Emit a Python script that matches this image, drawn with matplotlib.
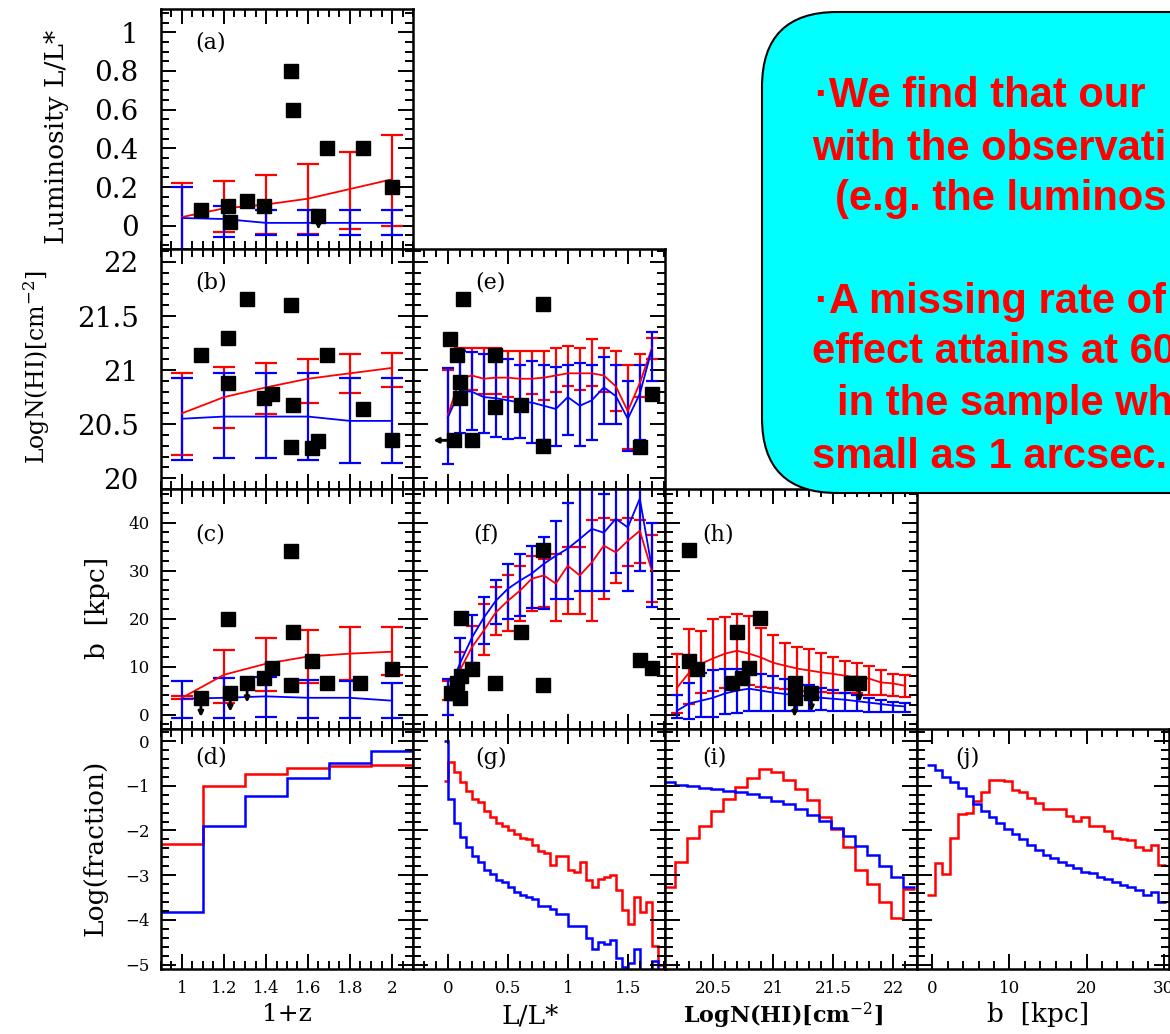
import numpy as np
import matplotlib
matplotlib.use("Agg")
import matplotlib.pyplot as plt
from matplotlib.patches import FancyBboxPatch
from matplotlib.ticker import MultipleLocator, FuncFormatter

plt.rcParams["font.family"] = "DejaVu Serif"
plt.rcParams["mathtext.fontset"] = "dejavuserif"

RED = "#ff0000"
BLUE = "#0000ff"

# ---- panels a-c : model vs 1+z ----
z_bins = [1.0, 1.2, 1.4, 1.6, 1.8, 2.0]

a_red_mid = [0.045, 0.09, 0.11, 0.14, 0.19, 0.24]
a_red_hi = [0.22, 0.23, 0.26, 0.32, 0.38, 0.47]
a_red_lo = [-0.2, -0.03, -0.04, -0.04, -0.015, 0.0]
a_blue_mid = [0.04, 0.035, 0.015, 0.015, 0.015, 0.015]
a_blue_hi = [0.2, 0.1, 0.08, 0.08, 0.08, 0.08]
a_blue_lo = [-0.2, -0.06, -0.05, -0.05, -0.05, -0.05]
a_z = [1.09, 1.22, 1.23, 1.31, 1.39, 1.52, 1.53, 1.65, 1.69, 1.86, 2.0]
a_L = [0.08, 0.1, 0.02, 0.13, 0.1, 0.8, 0.6, 0.05, 0.4, 0.4, 0.2]
a_limits = [7]

b_red_mid = [20.6, 20.75, 20.84, 20.92, 20.97, 21.02]
b_red_hi = [20.97, 21.03, 21.07, 21.1, 21.15, 21.16]
b_red_lo = [20.21, 20.46, 20.59, 20.7, 20.79, 20.84]
b_blue_mid = [20.55, 20.57, 20.57, 20.57, 20.53, 20.53]
b_blue_hi = [20.93, 20.97, 20.97, 20.97, 20.93, 20.93]
b_blue_lo = [20.17, 20.19, 20.19, 20.17, 20.14, 20.14]
b_z = [1.09, 1.22, 1.22, 1.31, 1.39, 1.43, 1.52, 1.53, 1.52, 1.62, 1.65, 1.69, 1.86, 2.0]
b_N = [21.14, 21.3, 20.88, 21.66, 20.74, 20.78, 21.6, 20.68, 20.29, 20.28, 20.34, 21.14, 20.64, 20.35]

c_red_mid = [3.5, 8.3, 10.6, 12.1, 12.7, 13.1]
c_red_hi = [3.8, 13.5, 16.0, 17.7, 18.2, 18.2]
c_red_lo = [3.2, 2.5, 5.0, 6.5, 7.3, 8.3]
c_blue_mid = [3.3, 3.5, 3.8, 3.5, 3.5, 2.9]
c_blue_hi = [6.9, 7.7, 7.9, 7.3, 6.9, 6.5]
c_blue_lo = [-0.8, -0.8, -0.4, -0.8, -0.8, -0.8]
c_z = [1.09, 1.22, 1.23, 1.31, 1.39, 1.43, 1.52, 1.53, 1.52, 1.62, 1.69, 1.85, 2.0]
c_b = [3.5, 20, 4.6, 6.5, 7.7, 9.8, 34, 17.3, 6.1, 11.2, 6.6, 6.5, 9.5]
c_limits = [0, 2, 3]

# (d) fraction vs 1+z
d_edges = [0.9, 1.1, 1.3, 1.5, 1.7, 1.9, 2.1]
d_red = [-2.3, -1.0, -0.73, -0.6, -0.56, -0.54]
d_blue = [-3.82, -1.9, -1.23, -0.83, -0.5, -0.23]

# ---- panels e-g : vs L/L* ----
L_bins = [0.0, 0.1, 0.2, 0.3, 0.4, 0.5, 0.6, 0.7, 0.8, 0.9,
          1.0, 1.1, 1.2, 1.3, 1.4, 1.5, 1.6, 1.7]

e_red_mid = [20.58, 20.92, 20.95, 20.92, 20.93, 20.93, 20.92, 20.92, 20.93,
             20.95, 20.97, 20.97, 20.97, 20.95, 20.85, 20.62, 20.88, 21.2]
e_red_hi = [21.0, 21.2, 21.2, 21.2, 21.2, 21.18, 21.18, 21.18, 21.18,
            21.2, 21.22, 21.2, 21.29, 21.2, 21.18, 21.05, 21.15, 21.3]
e_red_lo = [20.35, 20.8, 20.82, 20.78, 20.78, 20.75, 20.72, 20.78, 20.72,
            20.8, 20.85, 20.82, 20.85, 20.8, 20.62, 20.27, 20.75, 21.1]
e_blue_mid = [20.56, 20.81, 20.8, 20.75, 20.74, 20.72, 20.7, 20.7, 20.67,
              20.64, 20.75, 20.67, 20.72, 20.84, 20.76, 20.55, 20.78, 21.19]
e_blue_hi = [21.02, 21.18, 21.17, 21.15, 21.12, 21.1, 21.05, 21.08, 21.05,
             21.03, 21.05, 21.07, 21.05, 21.12, 21.05, 20.9, 21.05, 21.35]
e_blue_lo = [20.13, 20.42, 20.45, 20.42, 20.38, 20.36, 20.37, 20.33, 20.35,
             20.3, 20.4, 20.3, 20.35, 20.5, 20.5, 20.25, 20.35, 20.9]
e_L = [0.125, 0.02, 0.08, 0.39, 0.79, 0.1, 0.1, 0.39, 0.61, 0.05, 0.2, 0.79, 1.7, 1.6]
e_N = [21.66, 21.29, 21.14, 21.14, 21.61, 20.89, 20.74, 20.66, 20.68, 20.35, 20.35, 20.3, 20.78, 20.29]
e_limits = [9]

f_red_mid = [5, 9.2, 14, 17.5, 21.3, 23.7, 25.8, 28.3, 29, 27.3, 31, 29, 31.7, 35.2, 33.8, 36.2, 38.3, 30]
f_red_hi = [7, 13, 18.5, 23, 26.5, 29, 31, 33, 32.5, 33.5, 35, 35, 40.5, 41, 40.5, 41, 40.5, 37.5]
f_red_lo = [3, 6.5, 10.5, 12.5, 16.5, 17.5, 19.5, 21.5, 22.5, 19.5, 21, 21, 19.5, 24, 27.5, 31, 31.5, 23.5]
f_blue_mid = [4.4, 10.6, 16, 20.2, 23.7, 26.2, 27.9, 29.4, 31.4, 33.1, 34.6, 36.6, 38.7, 37.9, 40.8, 39, 45, 30.6]
f_blue_hi = [7.5, 16, 20.8, 24.6, 28, 31.4, 33.5, 35.2, 37, 40.4, 44, 48, 48, 46, 48, 48, 48, 40]
f_blue_lo = [0, 4.6, 10.8, 14.7, 18.9, 20, 20.6, 22.3, 22, 24.1, 24.1, 25.8, 25.8, 25.8, 29.4, 25.8, 30, 22.5]
f_L = [0.11, 0.79, 0.61, 0.2, 0.11, 0.08, 0.39, 0.79, 0.03, 0.1, 1.6, 1.7, 0.06]
f_b = [20.2, 34.2, 17.3, 9.6, 8.1, 6.5, 6.6, 6.2, 4.6, 3.5, 11.4, 9.8, 4.4]

g_edges = [-0.03] + [round(0.05 * k, 2) for k in range(37)]
g_red = [-0.9, -0.46, -0.69, -0.92, -1.11, -1.30, -1.36, -1.56, -1.71, -1.83, -1.9, -1.98,
         -2.09, -2.17, -2.2, -2.32, -2.47, -2.51, -2.77, -2.58, -2.57, -2.89, -2.92, -2.7,
         -3.11, -3.26, -3.08, -3.04, -3.0, -3.34, -3.79, -4.1, -3.49, -3.83, -3.61, -4.59, -5.0]
g_blue = [0.0, -1.3, -1.84, -2.14, -2.37, -2.57, -2.7, -2.89, -2.98, -3.1, -3.15, -3.26,
          -3.38, -3.45, -3.49, -3.53, -3.68, -3.7, -3.76, -3.87, -3.87, -4.14, -4.14, -4.14,
          -4.4, -4.66, -4.49, -4.55, -4.44, -4.86, -5.05, -4.97, -4.66, -5.4, -5.4, -4.93, -5.4]

# ---- panels h-i : vs LogN(HI) ----
N_bins = [20.2, 20.3, 20.4, 20.5, 20.6, 20.7, 20.8, 20.9, 21.0, 21.1,
          21.2, 21.3, 21.4, 21.5, 21.6, 21.7, 21.8, 21.9, 22.0, 22.1]
h_red_mid = [5.6, 8.7, 10.6, 11.7, 12.7, 13.3, 12.7, 11.9, 10.8, 10.2,
             9.6, 9.2, 8.8, 8.5, 8.1, 7.7, 7.5, 6.7, 6.5, 6.0]
h_red_hi = [12.7, 17.9, 17.5, 20, 20.4, 21, 20.5, 18.1, 16.5, 15,
            14, 13.6, 12.9, 12, 11.2, 10.8, 10.2, 9.2, 8.5, 8.2]
h_red_lo = [0.4, 2.3, 4.4, 5, 5.6, 6.5, 6.2, 5.8, 5.5, 5.3,
            5.0, 5.0, 4.8, 4.6, 4.6, 4.4, 4.0, 4.0, 3.8, 3.6]
h_blue_mid = [0.8, 2.3, 2.9, 3.5, 4.4, 5.0, 5.4, 5.0, 4.6, 4.3,
              4.0, 3.8, 3.5, 3.3, 3.1, 2.8, 2.5, 2.2, 1.9, 1.7]
h_blue_hi = [4.0, 6.5, 8.7, 9.3, 9.6, 9.5, 9.3, 8.5, 8.1, 7.4,
             6.7, 6.2, 5.6, 5.1, 4.6, 4.1, 3.5, 3.1, 2.7, 2.5]
h_blue_lo = [-0.8, -1.0, -0.6, -0.5, 0.2, 0.4, 0.8, 0.8, 0.8, 0.8,
             0.8, 0.8, 1.0, 0.8, 0.8, 0.7, 0.6, 0.5, 0.5, 0.5]
h_N = [20.3, 20.3, 20.37, 20.7, 20.89, 20.66, 20.74, 20.8, 21.18, 21.18, 21.32, 21.65, 21.72]
h_b = [34.2, 11.2, 9.6, 17.3, 20.2, 6.6, 7.7, 9.8, 6.5, 3.5, 4.6, 6.5, 6.6]
h_limits = [9, 10, 12]

i_edges = [round(20.08 + 0.1 * k, 2) for k in range(22)]
i_red = [-3.27, -2.7, -2.17, -1.9, -1.56, -1.3, -1.03, -0.83, -0.63, -0.7, -0.88,
         -1.07, -1.31, -1.71, -1.96, -2.36, -2.89, -3.2, -3.6, -3.95, -3.3]
i_blue = [-0.92, -0.98, -1.01, -1.05, -1.08, -1.11, -1.13, -1.18, -1.26, -1.33, -1.41,
          -1.52, -1.66, -1.79, -1.95, -2.13, -2.34, -2.55, -2.8, -3.04, -3.27]

# ---- panel j : vs b ----
j_edges = [round(-0.7 + k, 1) for k in range(32)]
j_red = [-3.45, -2.73, -2.98, -2.17, -1.64, -1.6, -1.33, -1.13, -0.86, -0.86, -0.9,
         -1.09, -1.13, -1.28, -1.39, -1.52, -1.52, -1.52, -1.67, -1.79, -1.71, -1.9,
         -1.9, -2.02, -2.17, -2.2, -2.22, -2.36, -2.43, -2.32, -2.77]
j_blue = [-0.54, -0.65, -0.8, -0.92, -1.05, -1.22, -1.41, -1.56, -1.69, -1.83, -1.96,
          -2.09, -2.2, -2.32, -2.43, -2.55, -2.62, -2.7, -2.77, -2.85, -2.92, -2.96,
          -3.04, -3.08, -3.15, -3.23, -3.26, -3.34, -3.45, -3.38, -3.61]

box_lines = ["\u00b7We find that our", "with the observati", "(e.g. the luminos",
             "\u00b7A missing rate of", "effect attains at 60", "in the sample wh",
             "small as 1 arcsec."]


fig = plt.figure(figsize=(11.7, 10.34), dpi=100)
W, H = 1170, 1034


def panel(col, row):
    ax = fig.add_axes([(161 + 252 * col) / W, 1 - (9 + 240 * (row + 1)) / H, 252 / W, 240 / H])
    ax.tick_params(which="both", direction="in", top=True, right=True, width=1.4)
    ax.tick_params(which="major", length=11)
    ax.tick_params(which="minor", length=5.5)
    ax.tick_params(labelbottom=False, labelleft=False)
    for s in ax.spines.values():
        s.set_linewidth(1.8)
    return ax


def num(v, pos):
    return f"{v:g}".replace("-", "\u2212")


def bars(ax, x, mid, lo, hi, color, cap):
    mid = np.array(mid)
    err = [mid - np.array(lo), np.array(hi) - mid]
    ax.errorbar(x, mid, yerr=err, color=color, lw=1.3, elinewidth=1.6,
                capsize=cap, capthick=1.6, zorder=2)


def points(ax, x, y):
    ax.plot(x, y, "s", color="black", ms=10, zorder=5)


def limits(ax, x, y, idx, dx, dy):
    for k in idx:
        ax.annotate("", xy=(x[k] + dx, y[k] + dy), xytext=(x[k], y[k]),
                    arrowprops=dict(arrowstyle="-|>", color="black", lw=2,
                                    mutation_scale=7, shrinkA=0, shrinkB=0), zorder=4)


def label(ax, text, x, y):
    ax.text(x, y, text, transform=ax.transAxes, fontsize=16, ha="left", va="center")


axes = {}
for name, col, row in [("a", 0, 0), ("b", 0, 1), ("c", 0, 2), ("d", 0, 3),
                       ("e", 1, 1), ("f", 1, 2), ("g", 1, 3),
                       ("h", 2, 2), ("i", 2, 3), ("j", 3, 3)]:
    axes[name] = panel(col, row)

# x ranges / ticks per column
for name in "abcd":
    axes[name].set_xlim(0.9, 2.1)
    axes[name].xaxis.set_major_locator(MultipleLocator(0.2))
    axes[name].xaxis.set_minor_locator(MultipleLocator(0.05))
for name in "efg":
    axes[name].set_xlim(-0.29, 1.81)
    axes[name].xaxis.set_major_locator(MultipleLocator(0.5))
    axes[name].xaxis.set_minor_locator(MultipleLocator(0.1))
for name in "hi":
    axes[name].set_xlim(20.1, 22.2)
    axes[name].xaxis.set_major_locator(MultipleLocator(0.5))
    axes[name].xaxis.set_minor_locator(MultipleLocator(0.1))
axes["j"].set_xlim(-2, 30.7)
axes["j"].xaxis.set_major_locator(MultipleLocator(10))
axes["j"].xaxis.set_minor_locator(MultipleLocator(2))

# y ranges / ticks per row
axes["a"].set_ylim(-0.12, 1.12)
axes["a"].yaxis.set_major_locator(MultipleLocator(0.2))
axes["a"].yaxis.set_minor_locator(MultipleLocator(0.05))
for name in "be":
    axes[name].set_ylim(19.9, 22.12)
    axes[name].yaxis.set_major_locator(MultipleLocator(0.5))
    axes[name].yaxis.set_minor_locator(MultipleLocator(0.1))
for name in "cfh":
    axes[name].set_ylim(-3, 47)
    axes[name].yaxis.set_major_locator(MultipleLocator(10))
    axes[name].yaxis.set_minor_locator(MultipleLocator(2))
for name in "dgij":
    axes[name].set_ylim(-5.1, 0.27)
    axes[name].yaxis.set_major_locator(MultipleLocator(1))
    axes[name].yaxis.set_minor_locator(MultipleLocator(0.2))

for name in "abcd":
    axes[name].tick_params(labelleft=True)
    axes[name].yaxis.set_major_formatter(FuncFormatter(num))
for name in "dgij":
    axes[name].tick_params(labelbottom=True, labelsize=12, pad=8)
    axes[name].xaxis.set_major_formatter(FuncFormatter(num))
for name in "ab":
    axes[name].tick_params(axis="y", labelsize=20, pad=16)
for name in "cd":
    axes[name].tick_params(axis="y", labelsize=12, pad=8)

# (a)
ax = axes["a"]
bars(ax, z_bins, a_red_mid, a_red_lo, a_red_hi, RED, 8)
bars(ax, z_bins, a_blue_mid, a_blue_lo, a_blue_hi, BLUE, 8)
points(ax, a_z, a_L)
limits(ax, a_z, a_L, a_limits, 0, -0.07)
label(ax, "(a)", 0.135, 0.86)

# (b)
ax = axes["b"]
bars(ax, z_bins, b_red_mid, b_red_lo, b_red_hi, RED, 8)
bars(ax, z_bins, b_blue_mid, b_blue_lo, b_blue_hi, BLUE, 8)
points(ax, b_z, b_N)
label(ax, "(b)", 0.135, 0.86)

# (c)
ax = axes["c"]
bars(ax, z_bins, c_red_mid, c_red_lo, c_red_hi, RED, 8)
bars(ax, z_bins, c_blue_mid, c_blue_lo, c_blue_hi, BLUE, 8)
points(ax, c_z, c_b)
limits(ax, c_z, c_b, c_limits, 0, -4)
label(ax, "(c)", 0.135, 0.81)

# (d)
ax = axes["d"]
ax.stairs(d_red, d_edges, baseline=None, color=RED, lw=1.8)
ax.stairs(d_blue, d_edges, baseline=None, color=BLUE, lw=1.8)
label(ax, "(d)", 0.135, 0.88)

# (e)
ax = axes["e"]
bars(ax, L_bins, e_red_mid, e_red_lo, e_red_hi, RED, 4.5)
bars(ax, L_bins, e_blue_mid, e_blue_lo, e_blue_hi, BLUE, 4.5)
points(ax, e_L, e_N)
limits(ax, e_L, e_N, e_limits, -0.17, 0)
label(ax, "(e)", 0.246, 0.86)

# (f)
ax = axes["f"]
bars(ax, L_bins, f_red_mid, f_red_lo, f_red_hi, RED, 4.5)
bars(ax, L_bins, f_blue_mid, f_blue_lo, f_blue_hi, BLUE, 4.5)
points(ax, f_L, f_b)
label(ax, "(f)", 0.24, 0.81)

# (g)
ax = axes["g"]
ax.stairs(g_red, g_edges, baseline=None, color=RED, lw=1.8)
ax.stairs(g_blue, g_edges, baseline=None, color=BLUE, lw=1.8)
label(ax, "(g)", 0.246, 0.88)

# (h)
ax = axes["h"]
bars(ax, N_bins, h_red_mid, h_red_lo, h_red_hi, RED, 4.5)
bars(ax, N_bins, h_blue_mid, h_blue_lo, h_blue_hi, BLUE, 4.5)
points(ax, h_N, h_b)
limits(ax, h_N, h_b, h_limits, 0, -4)
label(ax, "(h)", 0.147, 0.81)

# (i)
ax = axes["i"]
ax.stairs(i_red, i_edges, baseline=None, color=RED, lw=1.8)
ax.stairs(i_blue, i_edges, baseline=None, color=BLUE, lw=1.8)
label(ax, "(i)", 0.147, 0.88)

# (j)
ax = axes["j"]
ax.stairs(j_red, j_edges, baseline=None, color=RED, lw=1.8)
ax.stairs(j_blue, j_edges, baseline=None, color=BLUE, lw=1.8)
label(ax, "(j)", 0.15, 0.88)

# axis labels
ylabels = [("a", "Luminosity L/L*", 19, -0.413, 0.467, "normal"),
           ("b", "LogN(HI)[cm$^{-2}$]", 17, -0.492, 0.508, "normal"),
           ("c", "b  [kpc]", 19, -0.25, 0.504, "normal"),
           ("d", "Log(fraction)", 19, -0.262, 0.504, "normal")]
for name, text, size, x, y, weight in ylabels:
    ax = axes[name]
    ax.set_ylabel(text, fontsize=size, fontweight=weight)
    ax.yaxis.set_label_coords(x, y)
    ax.yaxis.label.set_va("center")

xlabels = [("d", "1+z", 18, 0.5, -0.19, "normal"),
           ("g", "L/L*", 19, 0.464, -0.196, "normal"),
           ("i", "LogN(HI)[cm$^{-2}$]", 16, 0.468, -0.196, "bold"),
           ("j", "b  [kpc]", 19, 0.48, -0.19, "normal")]
for name, text, size, x, y, weight in xlabels:
    ax = axes[name]
    ax.set_xlabel(text, fontsize=size, fontweight=weight)
    ax.xaxis.set_label_coords(x, y)
    ax.xaxis.label.set_va("center")

# callout box, drawn in pixel coordinates
over = fig.add_axes([0, 0, 1, 1], zorder=10)
over.set_xlim(0, W)
over.set_ylim(H, 0)
over.axis("off")
over.add_patch(FancyBboxPatch((762, 12), 600, 481,
                              boxstyle="round,pad=0,rounding_size=75",
                              fc="#00ffff", ec="black", lw=1.5))
line_x = [815, 812, 835, 815, 812, 837, 812]
line_y = [107, 160, 210, 313, 363, 415, 468]
for x, y, text in zip(line_x, line_y, box_lines):
    over.text(x, y, text, color=RED, fontsize=30, fontweight="bold",
              family="Liberation Sans", ha="left", va="baseline")

fig.savefig("out.png", dpi=100)
